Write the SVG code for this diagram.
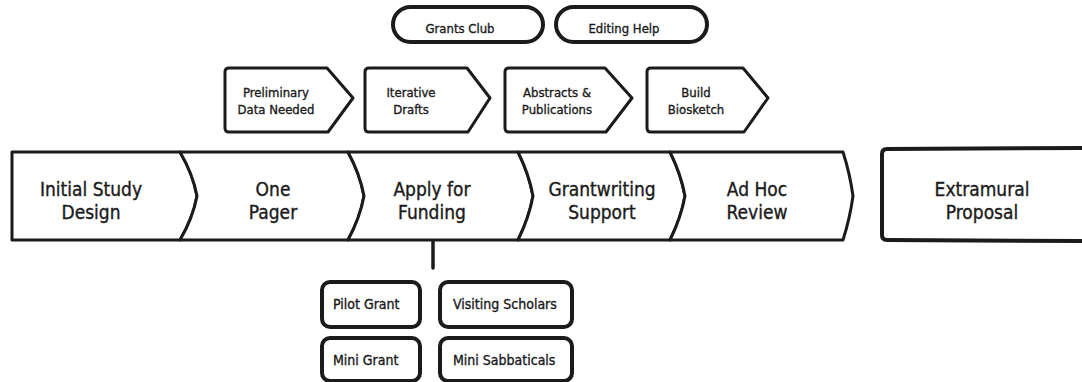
<svg xmlns="http://www.w3.org/2000/svg" width="1082" height="382" viewBox="0 0 1082 382">
<style>
.s{fill:#fff;stroke:#1b1b1b;stroke-width:3;stroke-linejoin:round;stroke-linecap:round}
.k{stroke-width:4}
.t{font-family:"Liberation Sans Narrow","DejaVu Sans Condensed","Liberation Sans",sans-serif;fill:#1b1b1b;stroke:#1b1b1b;stroke-width:0.35;text-anchor:middle}
.m{font-size:19px}
.sm{font-size:13px}
.p{font-size:13px}
.b{font-size:14px;text-anchor:start}
</style>
<rect width="1082" height="382" fill="#fff"/>
<g id="n1"><path class="s" d="M12,152 L180,152 Q193,174 197,196 Q193,218 180,240 L12,240 Z"/><text class="t m" x="91" y="196">Initial Study</text><text class="t m" x="91" y="219">Design</text></g>
<g id="n2"><path class="s" d="M180,152 L348,152 Q360,174 364,196 Q360,218 348,240 L180,240 Q193,218 197,196 Q193,174 180,152 Z"/><text class="t m" x="273" y="196">One</text><text class="t m" x="273" y="219">Pager</text></g>
<g id="n3"><path class="s" d="M348,152 L518,152 Q529,174 533,196 Q529,218 518,240 L348,240 Q360,218 364,196 Q360,174 348,152 Z"/><text class="t m" x="432" y="196">Apply for</text><text class="t m" x="432" y="219">Funding</text></g>
<g id="n4"><path class="s" d="M518,152 L670,152 Q681,174 685,196 Q681,218 670,240 L518,240 Q529,218 533,196 Q529,174 518,152 Z"/><text class="t m" x="602" y="196">Grantwriting</text><text class="t m" x="602" y="219">Support</text></g>
<g id="n5"><path class="s" d="M670,152 L843,152 Q850,174 853,196 Q850,218 843,240 L670,240 Q681,218 685,196 Q681,174 670,152 Z"/><text class="t m" x="757" y="196">Ad Hoc</text><text class="t m" x="757" y="219">Review</text></g>
<g id="n6"><path class="s k" d="M887,149 L1090,148 L1090,241 L887,240 Q882,240 882,235 L882,154 Q882,149 887,149 Z"/><text class="t m" x="982" y="196">Extramural</text><text class="t m" x="982" y="219">Proposal</text></g>
<g id="s1"><path class="s" d="M229,68 L327,68 L353,98 L328,132 L229,132 Q225,132 225,128 L225,72 Q225,68 229,68 Z"/><text class="t sm" x="276" y="97">Preliminary</text><text class="t sm" x="276" y="114">Data Needed</text></g>
<g id="s2"><path class="s" d="M369,68 L467,68 L490,98 L468,132 L369,132 Q365,132 365,128 L365,72 Q365,68 369,68 Z"/><text class="t sm" x="411" y="97">Iterative</text><text class="t sm" x="411" y="114">Drafts</text></g>
<g id="s3"><path class="s" d="M509,68 L605,68 L632,98 L606,132 L509,132 Q505,132 505,128 L505,72 Q505,68 509,68 Z"/><text class="t sm" x="557" y="97">Abstracts &amp;</text><text class="t sm" x="557" y="114">Publications</text></g>
<g id="s4"><path class="s" d="M651,68 L743,68 L768,98 L744,132 L651,132 Q647,132 647,128 L647,72 Q647,68 651,68 Z"/><text class="t sm" x="696" y="97">Build</text><text class="t sm" x="696" y="114">Biosketch</text></g>
<g id="p1"><rect class="s k" x="393" y="7" width="150" height="35" rx="17.5"/><text class="t p" x="460" y="33">Grants Club</text></g>
<g id="p2"><rect class="s k" x="556" y="7" width="151" height="35" rx="17.5"/><text class="t p" x="624" y="33">Editing Help</text></g>
<g id="connectors"><path d="M433,241 L433,268" fill="none" stroke="#1b1b1b" stroke-width="3.5" stroke-linecap="round"/></g>
<g id="b1"><rect class="s k" x="322" y="282" width="98" height="45" rx="8"/><text class="t b" x="333" y="309">Pilot Grant</text></g>
<g id="b2"><rect class="s k" x="440" y="282" width="132" height="45" rx="8"/><text class="t b" x="453" y="309">Visiting Scholars</text></g>
<g id="b3"><rect class="s k" x="322" y="338" width="98" height="43" rx="8"/><text class="t b" x="333" y="365">Mini Grant</text></g>
<g id="b4"><rect class="s k" x="440" y="338" width="132" height="43" rx="8"/><text class="t b" x="453" y="365">Mini Sabbaticals</text></g>
</svg>
